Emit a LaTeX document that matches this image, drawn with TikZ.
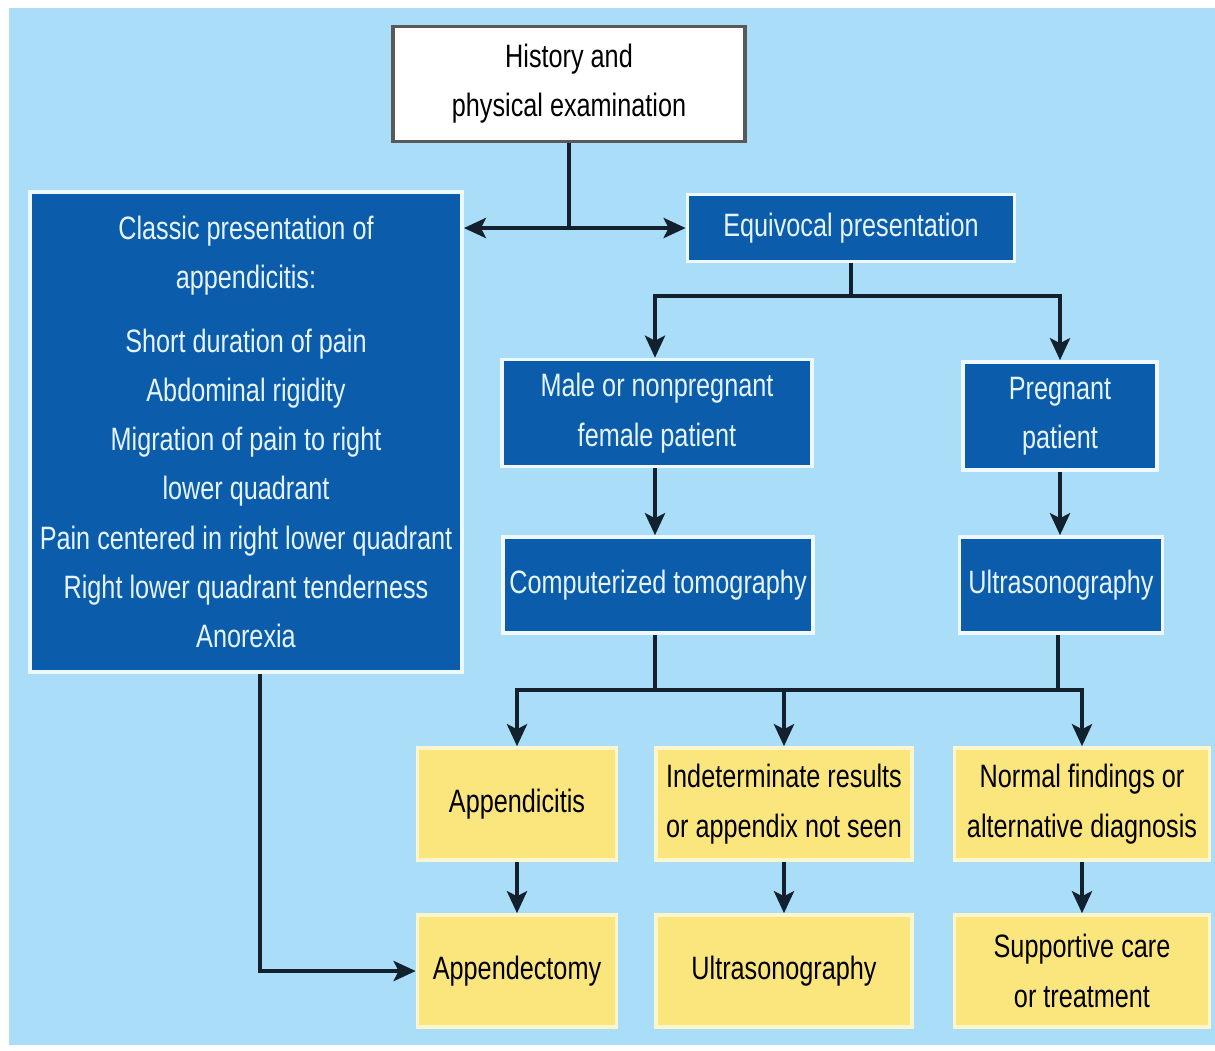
\documentclass[tikz,border=0pt]{standalone}
\usepackage{fontspec}
\setmainfont{Liberation Sans}[FakeStretch=0.78]
\usepackage{tikz}
\usetikzlibrary{calc, positioning, arrows.meta}
\definecolor{bgblue}{HTML}{AADDF8}
\definecolor{boxblue}{HTML}{0B5DAB}
\definecolor{boxyellow}{HTML}{FBE67E}
\definecolor{linedark}{HTML}{13202E}
\definecolor{paletext}{HTML}{E6F4FF}

\begin{document}
\begin{tikzpicture}[x=0.01cm, y=-0.01cm,
	font=\fontsize{9.2}{14}\selectfont,
	box/.style={rectangle, align=center, inner sep=1pt},
	whitebox/.style={box, fill=white, draw=black!65, line width=1.1pt},
	bluebox/.style={box, fill=boxblue, draw=white!80!bgblue, line width=1pt, text=paletext},
	yellowbox/.style={box, fill=boxyellow, draw=white!60!boxyellow, line width=1pt, text=black,
		minimum height=1.12cm},
	link/.style={draw=linedark, line width=1.2pt},
	arr/.style={link, -{Stealth[length=2.2mm, width=2mm, inset=0.5mm]}}]
	% background
	\useasboundingbox (0,0) rectangle (1215,1050);
	\fill [white] (0,0) rectangle (1215,1050);
	\fill [bgblue] (9,8) rectangle (1215,1045);

	\node (hist) [whitebox, minimum width=3.52cm, minimum height=1.15cm] at (569,84)
		{History and\\physical examination};
	\node (classic) [bluebox, minimum width=4.32cm, minimum height=4.8cm] at (246,432)
		{Classic presentation of\\appendicitis:\\[4pt]
		Short duration of pain\\
		Abdominal rigidity\\
		Migration of pain to right\\
		lower quadrant\\
		Pain centered in right lower quadrant\\
		Right lower quadrant tenderness\\
		Anorexia};
	\node (equiv) [bluebox, minimum width=3.27cm, minimum height=0.67cm] at (851,228)
		{Equivocal presentation};
	\node (male) [bluebox, minimum width=3.1cm, minimum height=1.07cm] at (657,413)
		{Male or nonpregnant\\female patient};
	\node (preg) [bluebox, minimum width=1.94cm, minimum height=1.08cm] at (1060,416)
		{Pregnant\\patient};
	\node (ct) [bluebox, minimum width=3.1cm, minimum height=0.96cm] at (658,585)
		{Computerized tomography};
	\node (usone) [bluebox, minimum width=2.03cm, minimum height=0.96cm] at (1061,585)
		{Ultrasonography};

	\node (appx) [yellowbox, minimum width=1.99cm] at (517,804) {Appendicitis};
	\node (indet) [yellowbox, minimum width=2.56cm] at (784,804)
		{Indeterminate results\\or appendix not seen};
	\node (normal) [yellowbox, minimum width=2.55cm] at (1082,804)
		{Normal findings or\\alternative diagnosis};
	\node (ectomy) [yellowbox, minimum width=1.99cm] at (517,971) {Appendectomy};
	\node (ustwo) [yellowbox, minimum width=2.56cm] at (784,971) {Ultrasonography};
	\node (care) [yellowbox, minimum width=2.55cm] at (1082,971)
		{Supportive care\\or treatment};

	% first split
	\coordinate (split) at (hist.south |- equiv.west);
	\draw [link] (hist.south) -- (split);
	\draw [arr] (split) -- (split -| classic.east);
	\draw [arr] (split) -- (equiv.west);

	% equivocal branch
	\coordinate (fork) at ($(equiv.south)+(0,33)$);
	\draw [link] (equiv.south) -- (fork);
	\draw [arr] (fork) -| ([xshift=-0.02cm]male.north);
	\draw [arr] (fork) -| (preg.north);
	\draw [arr] ([xshift=-0.02cm]male.south) -- ([xshift=-0.02cm]male.south |- ct.north);
	\draw [arr] (preg.south) -- (preg.south |- usone.north);

	% imaging results
	\coordinate (mid) at (0,690);
	\draw [link] ([xshift=-0.03cm]ct.south) -- ([xshift=-0.03cm]ct.south |- mid);
	\draw [link] ([xshift=-0.03cm]usone.south) -- ([xshift=-0.03cm]usone.south |- mid);
	\draw [arr] ([xshift=-0.03cm]usone.south |- mid) -| (appx.north);
	\draw [arr] ([xshift=-0.03cm]usone.south |- mid) -| (normal.north);
	\draw [arr] (indet.north |- mid) -- (indet.north);

	% treatment
	\draw [arr] (appx) -- (ectomy);
	\draw [arr] (indet) -- (ustwo);
	\draw [arr] (normal) -- (care);
	\draw [arr] ([xshift=0.14cm]classic.south) |- (ectomy.west);
\end{tikzpicture}
\end{document}
